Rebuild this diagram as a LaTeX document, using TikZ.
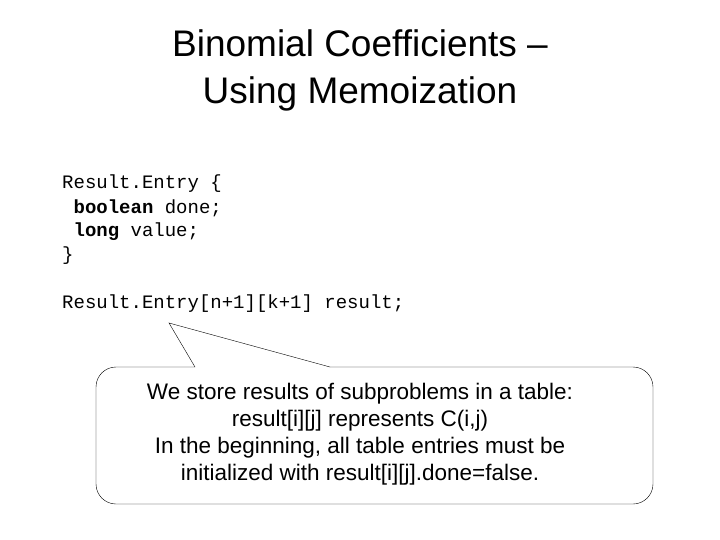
\documentclass[tikz,border=0pt]{standalone}
\usepackage{fontspec}
\setmainfont{Liberation Sans}
\setmonofont{Liberation Mono}
\begin{document}
\begin{tikzpicture}[x=1pt,y=-1pt,
  code/.style={anchor=west,inner sep=0pt,font=\fontsize{19}{20}\selectfont\ttfamily},
  ttl/.style={align=center,font=\fontsize{37}{47}\selectfont},
  body/.style={align=center,font=\fontsize{22.5}{27}\selectfont}]
\useasboundingbox (0,0) rectangle (720,540);
\node[ttl] (title) at (360,70) {Binomial Coefficients --\\Using Memoization};
\node[code] (l1) at (62,184) {Result.Entry \{};
\node[code] (l2) at (62,208) {\hspace{0.6em}\textbf{boolean} done;};
\node[code] (l3) at (62,232) {\hspace{0.6em}\textbf{long} value;};
\node[code] (l4) at (62,256) {\}};
\node[code] (l5) at (62,304) {Result.Entry[n+1][k+1] result;};
\coordinate (tip) at (169,323);
\draw[rounded corners=20pt] (195,367) -- (96,367) -- (96,504) -- (653,504) -- (653,367) -- (330,367);
\draw (195,367) -- (tip) -- (330,367);
\node[body] (txt) at (360,434) {We store results of subproblems in a table:\\result[i][j] represents C(i,j)\\In the beginning, all table entries must be\\initialized with result[i][j].done=false.};
\end{tikzpicture}
\end{document}
